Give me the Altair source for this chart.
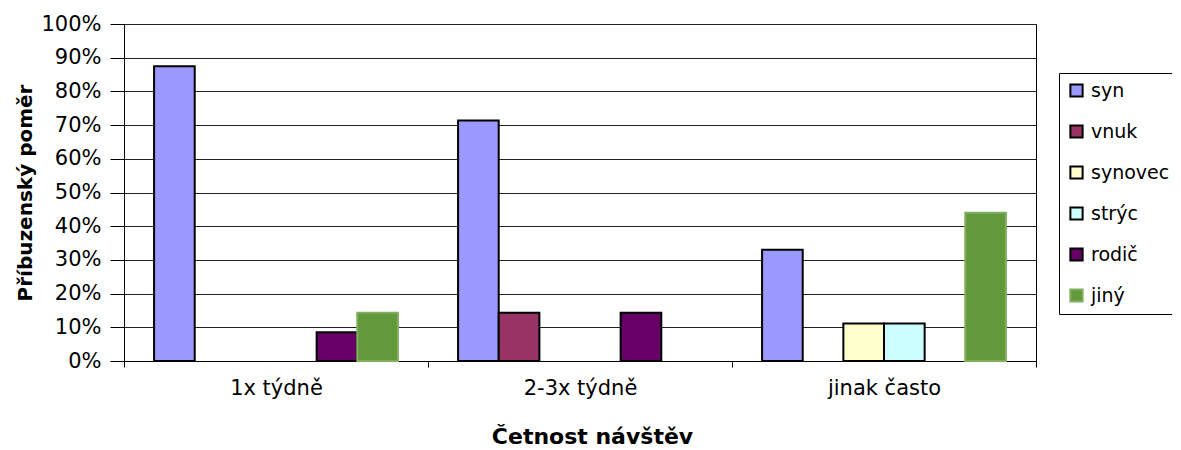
import altair as alt
import pandas as pd

categories = ["1x týdně", "2-3x týdně", "jinak často"]
series = ["syn", "vnuk", "synovec", "strýc", "rodič", "jiný"]
fill_colors = ["#9999FF", "#993366", "#FFFFCC", "#CCFFFF", "#660066", "#63993D"]
stroke_colors = ["#000000", "#000000", "#000000", "#000000", "#000000", "#7FAF5C"]

syn = [0.875, 0.714, 0.33]
vnuk = [None, 0.143, None]
synovec = [None, None, 0.111]
stryc = [None, None, 0.111]
rodic = [0.085, 0.143, None]
jiny = [0.143, None, 0.44]

values = [syn, vnuk, synovec, stryc, rodic, jiny]
rows = []
for s, vals in zip(series, values):
    for c, v in zip(categories, vals):
        if v is not None:
            rows.append({"kat": c, "ser": s, "val": v})
df = pd.DataFrame(rows)

FONT = "DejaVu Sans"

chart = alt.Chart(df).mark_bar(strokeWidth=2).encode(
    x=alt.X("kat:N", sort=categories,
            scale=alt.Scale(paddingInner=0, paddingOuter=0),
            axis=alt.Axis(title="Četnost návštěv", labelAngle=0, tickBand="extent",
                          labelFontSize=21, labelFont=FONT, labelColor="black",
                          labelPadding=10, tickSize=6, tickColor="black",
                          domainColor="black", titleFont=FONT, titleFontSize=22,
                          titleFontWeight="bold", titleColor="black",
                          titleX=468, titleY=75, titleBaseline="middle")),
    xOffset=alt.XOffset("ser:N", sort=series,
                        scale=alt.Scale(domain=series, paddingInner=0, paddingOuter=0.74)),
    y=alt.Y("val:Q", scale=alt.Scale(domain=[0, 1], nice=False),
            axis=alt.Axis(title="Příbuzenský poměr", format=".0%",
                          values=[i / 10 for i in range(11)], labelOverlap=False,
                          labelFontSize=21, labelFont=FONT, labelColor="black",
                          labelPadding=9, tickSize=14, tickColor="black",
                          domainColor="black", grid=True, gridColor="#222222",
                          gridWidth=1, titleFont=FONT, titleFontSize=20,
                          titleFontWeight="bold", titleColor="black",
                          titlePadding=5)),
    fill=alt.Fill("ser:N", scale=alt.Scale(domain=series, range=fill_colors),
                  legend=alt.Legend(title=None)),
    stroke=alt.Stroke("ser:N", scale=alt.Scale(domain=series, range=stroke_colors),
                      legend=alt.Legend(title=None)),
).properties(
    width=912, height=337,
    autosize=alt.AutoSizeParams(type="none"),
    padding={"left": 116, "top": 16, "right": 136, "bottom": 88},
).configure_view(
    stroke="black", strokeWidth=1
).configure_legend(
    orient="none", legendX=935, legendY=49,
    strokeColor="black", padding=8, symbolType="square", symbolSize=150,
    symbolStrokeWidth=2, labelFontSize=19, labelFont=FONT, labelColor="black",
    rowPadding=20, labelOffset=5, cornerRadius=0,
)

chart.save("out.html", embed_options={"renderer": "svg", "actions": False})
